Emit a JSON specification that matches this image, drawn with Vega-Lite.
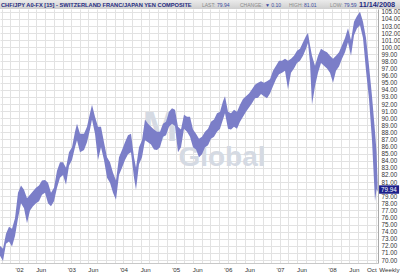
{
  "$schema": "https://vega.github.io/schema/vega-lite/v6.json",
  "width": 378,
  "height": 254,
  "autosize": "none",
  "padding": {"left": 0, "top": 9, "right": 22, "bottom": 12},
  "background": "white",
  "config": {"view": {"stroke": null}, "font": "Liberation Sans"},
  "resolve": {"axis": {"x": "independent", "y": "independent"}},
  "datasets": {
    "fx": [
      {"d": "2001-08-20", "lo": 70.6, "hi": 72.0},
      {"d": "2001-09-10", "lo": 69.85, "hi": 71.6},
      {"d": "2001-10-01", "lo": 72.3, "hi": 73.7},
      {"d": "2001-10-22", "lo": 72.6, "hi": 74.7},
      {"d": "2001-11-12", "lo": 71.9, "hi": 74.4},
      {"d": "2001-12-03", "lo": 73.4, "hi": 75.9},
      {"d": "2001-12-24", "lo": 75.9, "hi": 79.5},
      {"d": "2002-01-14", "lo": 78.0, "hi": 80.5},
      {"d": "2002-02-04", "lo": 77.3, "hi": 79.9},
      {"d": "2002-02-25", "lo": 75.2, "hi": 78.7},
      {"d": "2002-03-18", "lo": 77.0, "hi": 79.2},
      {"d": "2002-04-08", "lo": 77.6, "hi": 79.7},
      {"d": "2002-04-29", "lo": 78.0, "hi": 80.2},
      {"d": "2002-05-20", "lo": 78.3, "hi": 80.5},
      {"d": "2002-06-10", "lo": 79.2, "hi": 81.2},
      {"d": "2002-07-01", "lo": 79.5, "hi": 81.3},
      {"d": "2002-07-22", "lo": 78.0, "hi": 80.9},
      {"d": "2002-08-12", "lo": 77.6, "hi": 79.5},
      {"d": "2002-09-02", "lo": 78.3, "hi": 80.2},
      {"d": "2002-09-23", "lo": 80.2, "hi": 82.6},
      {"d": "2002-10-14", "lo": 81.6, "hi": 83.8},
      {"d": "2002-11-04", "lo": 82.0, "hi": 83.8},
      {"d": "2002-11-25", "lo": 80.6, "hi": 83.0},
      {"d": "2002-12-16", "lo": 83.3, "hi": 85.2},
      {"d": "2003-01-06", "lo": 84.1, "hi": 85.9},
      {"d": "2003-01-27", "lo": 85.9, "hi": 88.1},
      {"d": "2003-02-10", "lo": 86.9, "hi": 89.2},
      {"d": "2003-03-03", "lo": 85.2, "hi": 87.8},
      {"d": "2003-03-31", "lo": 85.5, "hi": 87.8},
      {"d": "2003-04-21", "lo": 86.6, "hi": 88.8},
      {"d": "2003-05-12", "lo": 88.4, "hi": 90.7},
      {"d": "2003-05-26", "lo": 89.8, "hi": 91.9},
      {"d": "2003-06-16", "lo": 87.8, "hi": 90.2},
      {"d": "2003-07-07", "lo": 84.1, "hi": 88.8},
      {"d": "2003-07-28", "lo": 85.9, "hi": 88.8},
      {"d": "2003-08-18", "lo": 84.1, "hi": 86.6},
      {"d": "2003-09-08", "lo": 81.6, "hi": 84.5},
      {"d": "2003-09-29", "lo": 80.9, "hi": 83.8},
      {"d": "2003-10-20", "lo": 79.5, "hi": 82.3},
      {"d": "2003-11-10", "lo": 78.5, "hi": 81.2},
      {"d": "2003-12-01", "lo": 82.0, "hi": 84.5},
      {"d": "2003-12-22", "lo": 83.0, "hi": 85.5},
      {"d": "2004-01-12", "lo": 84.1, "hi": 86.6},
      {"d": "2004-02-02", "lo": 84.9, "hi": 87.6},
      {"d": "2004-02-23", "lo": 85.2, "hi": 87.8},
      {"d": "2004-03-15", "lo": 81.6, "hi": 84.5},
      {"d": "2004-03-29", "lo": 79.9, "hi": 83.0},
      {"d": "2004-04-19", "lo": 83.5, "hi": 85.9},
      {"d": "2004-05-10", "lo": 84.5, "hi": 86.9},
      {"d": "2004-05-31", "lo": 86.9, "hi": 89.8},
      {"d": "2004-06-21", "lo": 86.6, "hi": 89.2},
      {"d": "2004-07-12", "lo": 86.3, "hi": 88.8},
      {"d": "2004-08-02", "lo": 85.6, "hi": 88.4},
      {"d": "2004-08-23", "lo": 85.5, "hi": 88.1},
      {"d": "2004-09-13", "lo": 85.9, "hi": 88.1},
      {"d": "2004-10-04", "lo": 87.4, "hi": 89.2},
      {"d": "2004-10-25", "lo": 87.6, "hi": 89.5},
      {"d": "2004-11-15", "lo": 88.8, "hi": 90.9},
      {"d": "2004-12-06", "lo": 89.2, "hi": 91.4},
      {"d": "2004-12-27", "lo": 88.9, "hi": 91.2},
      {"d": "2005-01-17", "lo": 85.2, "hi": 88.8},
      {"d": "2005-02-07", "lo": 85.9, "hi": 88.4},
      {"d": "2005-02-28", "lo": 88.5, "hi": 90.5},
      {"d": "2005-03-21", "lo": 88.1, "hi": 90.2},
      {"d": "2005-04-11", "lo": 87.4, "hi": 90.2},
      {"d": "2005-05-02", "lo": 85.9, "hi": 88.4},
      {"d": "2005-05-23", "lo": 85.6, "hi": 87.8},
      {"d": "2005-06-13", "lo": 84.5, "hi": 87.1},
      {"d": "2005-07-04", "lo": 84.9, "hi": 87.4},
      {"d": "2005-07-25", "lo": 85.9, "hi": 88.1},
      {"d": "2005-08-15", "lo": 86.2, "hi": 88.5},
      {"d": "2005-09-05", "lo": 87.1, "hi": 89.5},
      {"d": "2005-09-26", "lo": 87.4, "hi": 89.8},
      {"d": "2005-10-17", "lo": 88.1, "hi": 90.7},
      {"d": "2005-11-07", "lo": 88.5, "hi": 90.9},
      {"d": "2005-11-28", "lo": 89.8, "hi": 92.4},
      {"d": "2005-12-12", "lo": 90.7, "hi": 93.1},
      {"d": "2006-01-02", "lo": 88.5, "hi": 90.9},
      {"d": "2006-01-23", "lo": 88.4, "hi": 90.7},
      {"d": "2006-02-13", "lo": 88.8, "hi": 91.2},
      {"d": "2006-03-06", "lo": 88.5, "hi": 90.9},
      {"d": "2006-03-27", "lo": 89.5, "hi": 91.9},
      {"d": "2006-04-17", "lo": 90.2, "hi": 92.7},
      {"d": "2006-05-08", "lo": 90.9, "hi": 93.1},
      {"d": "2006-05-29", "lo": 91.5, "hi": 93.5},
      {"d": "2006-06-19", "lo": 92.1, "hi": 94.1},
      {"d": "2006-07-10", "lo": 92.8, "hi": 94.7},
      {"d": "2006-07-31", "lo": 92.9, "hi": 95.0},
      {"d": "2006-08-21", "lo": 93.4, "hi": 95.2},
      {"d": "2006-09-11", "lo": 93.1, "hi": 95.0},
      {"d": "2006-10-02", "lo": 92.8, "hi": 95.2},
      {"d": "2006-10-23", "lo": 93.5, "hi": 95.5},
      {"d": "2006-11-13", "lo": 94.5, "hi": 96.7},
      {"d": "2006-12-04", "lo": 95.5, "hi": 97.4},
      {"d": "2006-12-25", "lo": 96.2, "hi": 98.1},
      {"d": "2007-01-15", "lo": 96.4, "hi": 98.1},
      {"d": "2007-02-05", "lo": 96.7, "hi": 98.4},
      {"d": "2007-02-26", "lo": 94.1, "hi": 98.1},
      {"d": "2007-03-19", "lo": 96.4, "hi": 98.4},
      {"d": "2007-04-09", "lo": 97.0, "hi": 98.8},
      {"d": "2007-04-30", "lo": 97.8, "hi": 99.5},
      {"d": "2007-05-21", "lo": 98.1, "hi": 99.8},
      {"d": "2007-06-11", "lo": 98.8, "hi": 100.7},
      {"d": "2007-07-02", "lo": 99.8, "hi": 101.6},
      {"d": "2007-07-16", "lo": 100.6, "hi": 102.0},
      {"d": "2007-07-30", "lo": 97.8, "hi": 100.3},
      {"d": "2007-08-13", "lo": 91.9, "hi": 98.8},
      {"d": "2007-09-03", "lo": 94.5, "hi": 97.4},
      {"d": "2007-09-24", "lo": 96.4, "hi": 98.8},
      {"d": "2007-10-15", "lo": 97.8, "hi": 99.8},
      {"d": "2007-11-05", "lo": 97.4, "hi": 99.5},
      {"d": "2007-11-26", "lo": 97.0, "hi": 99.3},
      {"d": "2007-12-17", "lo": 96.4, "hi": 98.8},
      {"d": "2008-01-07", "lo": 95.0, "hi": 98.4},
      {"d": "2008-01-28", "lo": 96.7, "hi": 98.8},
      {"d": "2008-02-18", "lo": 97.3, "hi": 99.3},
      {"d": "2008-03-10", "lo": 98.4, "hi": 100.3},
      {"d": "2008-03-31", "lo": 99.3, "hi": 101.3},
      {"d": "2008-04-21", "lo": 100.7, "hi": 102.7},
      {"d": "2008-05-12", "lo": 98.8, "hi": 101.0},
      {"d": "2008-06-02", "lo": 101.7, "hi": 103.6},
      {"d": "2008-06-23", "lo": 102.7, "hi": 104.4},
      {"d": "2008-07-14", "lo": 103.1, "hi": 105.0},
      {"d": "2008-08-04", "lo": 101.3, "hi": 103.6},
      {"d": "2008-08-25", "lo": 96.7, "hi": 101.3},
      {"d": "2008-09-15", "lo": 92.7, "hi": 97.4},
      {"d": "2008-10-06", "lo": 86.9, "hi": 93.1},
      {"d": "2008-10-27", "lo": 78.3, "hi": 88.1},
      {"d": "2008-11-07", "lo": 80.0, "hi": 85.2},
      {"d": "2008-11-14", "lo": 79.6, "hi": 81.0}
    ],
    "quote": [
      {"d": "2008-11-14", "name": "CHF/JPY A0-FX [15] - SWITZERLAND FRANC/JAPAN YEN COMPOSITE", "last": 79.94, "lastText": "79.94", "change": "▼ 0.10", "high": "81.01", "low": "79.59", "date": "11/14/2008"}
    ]
  },
  "layer": [
    {
      "data": {"name": "fx"},
      "mark": {"type": "area", "color": "#7b7ec8", "opacity": 0},
      "encoding": {
        "x": {
          "field": "d", "type": "temporal",
          "scale": {"type": "utc", "domain": [{"year": 2001, "month": 8, "date": 20, "utc": true}, {"year": 2008, "month": 11, "date": 17, "utc": true}]},
          "axis": {
            "values": [
              {"year": 2001, "month": 9, "date": 1, "utc": true}, {"year": 2001, "month": 11, "date": 1, "utc": true},
              {"year": 2002, "month": 1, "date": 1, "utc": true}, {"year": 2002, "month": 3, "date": 1, "utc": true}, {"year": 2002, "month": 5, "date": 1, "utc": true}, {"year": 2002, "month": 6, "date": 1, "utc": true}, {"year": 2002, "month": 7, "date": 1, "utc": true}, {"year": 2002, "month": 9, "date": 1, "utc": true}, {"year": 2002, "month": 11, "date": 1, "utc": true},
              {"year": 2003, "month": 1, "date": 1, "utc": true}, {"year": 2003, "month": 3, "date": 1, "utc": true}, {"year": 2003, "month": 5, "date": 1, "utc": true}, {"year": 2003, "month": 6, "date": 1, "utc": true}, {"year": 2003, "month": 7, "date": 1, "utc": true}, {"year": 2003, "month": 9, "date": 1, "utc": true}, {"year": 2003, "month": 11, "date": 1, "utc": true},
              {"year": 2004, "month": 1, "date": 1, "utc": true}, {"year": 2004, "month": 3, "date": 1, "utc": true}, {"year": 2004, "month": 5, "date": 1, "utc": true}, {"year": 2004, "month": 6, "date": 1, "utc": true}, {"year": 2004, "month": 7, "date": 1, "utc": true}, {"year": 2004, "month": 9, "date": 1, "utc": true}, {"year": 2004, "month": 11, "date": 1, "utc": true},
              {"year": 2005, "month": 1, "date": 1, "utc": true}, {"year": 2005, "month": 3, "date": 1, "utc": true}, {"year": 2005, "month": 5, "date": 1, "utc": true}, {"year": 2005, "month": 6, "date": 1, "utc": true}, {"year": 2005, "month": 7, "date": 1, "utc": true}, {"year": 2005, "month": 9, "date": 1, "utc": true}, {"year": 2005, "month": 11, "date": 1, "utc": true},
              {"year": 2006, "month": 1, "date": 1, "utc": true}, {"year": 2006, "month": 3, "date": 1, "utc": true}, {"year": 2006, "month": 5, "date": 1, "utc": true}, {"year": 2006, "month": 6, "date": 1, "utc": true}, {"year": 2006, "month": 7, "date": 1, "utc": true}, {"year": 2006, "month": 9, "date": 1, "utc": true}, {"year": 2006, "month": 11, "date": 1, "utc": true},
              {"year": 2007, "month": 1, "date": 1, "utc": true}, {"year": 2007, "month": 3, "date": 1, "utc": true}, {"year": 2007, "month": 5, "date": 1, "utc": true}, {"year": 2007, "month": 6, "date": 1, "utc": true}, {"year": 2007, "month": 7, "date": 1, "utc": true}, {"year": 2007, "month": 9, "date": 1, "utc": true}, {"year": 2007, "month": 11, "date": 1, "utc": true},
              {"year": 2008, "month": 1, "date": 1, "utc": true}, {"year": 2008, "month": 3, "date": 1, "utc": true}, {"year": 2008, "month": 5, "date": 1, "utc": true}, {"year": 2008, "month": 6, "date": 1, "utc": true}, {"year": 2008, "month": 7, "date": 1, "utc": true}, {"year": 2008, "month": 9, "date": 1, "utc": true}, {"year": 2008, "month": 10, "date": 1, "utc": true}, {"year": 2008, "month": 11, "date": 1, "utc": true}
            ],
            "labelExpr": "utcmonth(datum.value) == 0 ? \"'\" + utcFormat(datum.value, '%y') : ((utcmonth(datum.value) == 5 || utcmonth(datum.value) == 9) ? utcFormat(datum.value, '%b') : '')",
            "labelFontSize": 6.2, "labelColor": "#333333", "labelPadding": 3, "labelOverlap": false, "labelFlush": false, "labelBaseline": "top",
            "ticks": false, "domain": true, "domainColor": "#c8c8c8",
            "grid": true, "gridColor": "#e2e2e2",
            "gridOpacity": {"condition": {"test": "utcmonth(datum.value) == 5 || utcmonth(datum.value) == 9", "value": 0}, "value": 1},
            "title": "Weekly", "titleFontSize": 6.2, "titleFontWeight": "normal", "titleColor": "#333333",
            "titleX": 399, "titleY": 3, "titleAlign": "right", "titleBaseline": "top"
          }
        },
        "y": {
          "field": "lo", "type": "quantitative",
          "scale": {"domain": [69.58, 105.4], "nice": false, "zero": false},
          "axis": {
            "orient": "right", "title": null,
            "values": [70, 71, 72, 73, 74, 75, 76, 77, 78, 79, 80, 81, 82, 83, 84, 85, 86, 87, 88, 89, 90, 91, 92, 93, 94, 95, 96, 97, 98, 99, 100, 101, 102, 103, 104, 105],
            "labelExpr": "datum.value == 80 ? '' : format(datum.value, '.2f')",
            "labelFontSize": 6.3, "labelColor": "#333333", "labelPadding": 3, "labelOverlap": false, "labelFlush": false,
            "ticks": false, "domain": true, "domainColor": "#aaaaaa",
            "grid": true, "gridColor": "#e2e2e2"
          }
        },
        "y2": {"field": "hi"}
      }
    },
    {
      "data": {"name": "quote"},
      "mark": {"type": "text", "clip": false, "text": "M", "font": "Liberation Sans", "fontWeight": "bold", "fontSize": 42, "color": "#d5dae3", "align": "center", "baseline": "alphabetic"},
      "encoding": {
        "x": {"datum": {"year": 2004, "month": 9, "date": 13, "utc": true}, "type": "temporal", "axis": null},
        "y": {"datum": 86.8, "type": "quantitative", "axis": null}
      }
    },
    {
      "data": {"name": "quote"},
      "mark": {"type": "text", "clip": false, "text": "Global", "font": "Liberation Sans", "fontWeight": "bold", "fontSize": 28, "color": "#d5dae3", "align": "center", "baseline": "alphabetic"},
      "encoding": {
        "x": {"datum": {"year": 2005, "month": 11, "date": 21, "utc": true}, "type": "temporal", "axis": null},
        "y": {"datum": 83.3, "type": "quantitative", "axis": null}
      }
    },
    {
      "data": {"name": "fx"},
      "mark": {"type": "area", "color": "#7b7ec8", "opacity": 1},
      "encoding": {
        "x": {"field": "d", "type": "temporal", "axis": null},
        "y": {"field": "lo", "type": "quantitative", "axis": null},
        "y2": {"field": "hi"}
      }
    },
    {
      "data": {"name": "quote"},
      "mark": {"type": "rect", "clip": false, "x2Offset": 22,
        "color": {"gradient": "linear", "x1": 0, "y1": 0, "x2": 0, "y2": 1,
          "stops": [{"offset": 0, "color": "#eeeeee"}, {"offset": 1, "color": "#cfcfcf"}]}},
      "encoding": {
        "x": {"datum": {"year": 2001, "month": 8, "date": 20, "utc": true}, "type": "temporal", "axis": null},
        "x2": {"datum": {"year": 2008, "month": 11, "date": 17, "utc": true}},
        "y": {"datum": 105.4, "type": "quantitative", "axis": null},
        "y2": {"datum": 106.8}
      }
    },
    {
      "data": {"name": "quote"},
      "mark": {"type": "point", "clip": false, "filled": true, "opacity": 1, "color": "#1c1f8a", "size": 400, "shape": "M-1,-0.42H1V0.42H-1Z", "xOffset": 11.5},
      "encoding": {
        "x": {"field": "d", "type": "temporal", "axis": null},
        "y": {"field": "last", "type": "quantitative", "axis": null}
      }
    },
    {
      "data": {"name": "quote"},
      "mark": {"type": "text", "clip": false, "color": "white", "fontSize": 6.3, "align": "left", "baseline": "middle", "dx": 3.5},
      "encoding": {
        "x": {"field": "d", "type": "temporal", "axis": null},
        "y": {"field": "last", "type": "quantitative", "axis": null},
        "text": {"field": "lastText"}
      }
    },
    {
      "data": {"name": "quote"},
      "mark": {"type": "text", "clip": false, "color": "#262c80", "fontSize": 5.7, "fontWeight": "bold", "align": "left", "baseline": "middle"},
      "encoding": {
        "x": {"datum": {"year": 2001, "month": 8, "date": 27, "utc": true}, "type": "temporal", "axis": null},
        "y": {"datum": 106.03, "type": "quantitative", "axis": null},
        "text": {"field": "name"}
      }
    },
    {
      "data": {"name": "quote"},
      "mark": {"type": "text", "clip": false, "text": "LAST:", "color": "#8a8a8a", "fontSize": 5, "align": "left", "baseline": "middle"},
      "encoding": {
        "x": {"datum": {"year": 2005, "month": 7, "date": 4, "utc": true}, "type": "temporal", "axis": null},
        "y": {"datum": 106.03, "type": "quantitative", "axis": null}
      }
    },
    {
      "data": {"name": "quote"},
      "mark": {"type": "text", "clip": false, "color": "#3b4aa0", "fontSize": 5, "align": "left", "baseline": "middle"},
      "encoding": {
        "x": {"datum": {"year": 2005, "month": 10, "date": 17, "utc": true}, "type": "temporal", "axis": null},
        "y": {"datum": 106.03, "type": "quantitative", "axis": null},
        "text": {"field": "lastText"}
      }
    },
    {
      "data": {"name": "quote"},
      "mark": {"type": "text", "clip": false, "text": "CHANGE:", "color": "#8a8a8a", "fontSize": 5, "align": "left", "baseline": "middle"},
      "encoding": {
        "x": {"datum": {"year": 2006, "month": 3, "date": 27, "utc": true}, "type": "temporal", "axis": null},
        "y": {"datum": 106.03, "type": "quantitative", "axis": null}
      }
    },
    {
      "data": {"name": "quote"},
      "mark": {"type": "text", "clip": false, "color": "#3b4aa0", "fontSize": 5, "align": "left", "baseline": "middle"},
      "encoding": {
        "x": {"datum": {"year": 2006, "month": 9, "date": 18, "utc": true}, "type": "temporal", "axis": null},
        "y": {"datum": 106.03, "type": "quantitative", "axis": null},
        "text": {"field": "change"}
      }
    },
    {
      "data": {"name": "quote"},
      "mark": {"type": "text", "clip": false, "text": "HIGH:", "color": "#8a8a8a", "fontSize": 5, "align": "left", "baseline": "middle"},
      "encoding": {
        "x": {"datum": {"year": 2007, "month": 3, "date": 5, "utc": true}, "type": "temporal", "axis": null},
        "y": {"datum": 106.03, "type": "quantitative", "axis": null}
      }
    },
    {
      "data": {"name": "quote"},
      "mark": {"type": "text", "clip": false, "color": "#3b4aa0", "fontSize": 5, "align": "left", "baseline": "middle"},
      "encoding": {
        "x": {"datum": {"year": 2007, "month": 6, "date": 18, "utc": true}, "type": "temporal", "axis": null},
        "y": {"datum": 106.03, "type": "quantitative", "axis": null},
        "text": {"field": "high"}
      }
    },
    {
      "data": {"name": "quote"},
      "mark": {"type": "text", "clip": false, "text": "LOW:", "color": "#8a8a8a", "fontSize": 5, "align": "left", "baseline": "middle"},
      "encoding": {
        "x": {"datum": {"year": 2007, "month": 12, "date": 17, "utc": true}, "type": "temporal", "axis": null},
        "y": {"datum": 106.03, "type": "quantitative", "axis": null}
      }
    },
    {
      "data": {"name": "quote"},
      "mark": {"type": "text", "clip": false, "color": "#3b4aa0", "fontSize": 5, "align": "left", "baseline": "middle"},
      "encoding": {
        "x": {"datum": {"year": 2008, "month": 3, "date": 24, "utc": true}, "type": "temporal", "axis": null},
        "y": {"datum": 106.03, "type": "quantitative", "axis": null},
        "text": {"field": "low"}
      }
    },
    {
      "data": {"name": "quote"},
      "mark": {"type": "text", "clip": false, "color": "#1f2a80", "fontSize": 7.3, "fontWeight": "bold", "align": "left", "baseline": "middle"},
      "encoding": {
        "x": {"datum": {"year": 2008, "month": 7, "date": 7, "utc": true}, "type": "temporal", "axis": null},
        "y": {"datum": 106.03, "type": "quantitative", "axis": null},
        "text": {"field": "date"}
      }
    }
  ]
}
